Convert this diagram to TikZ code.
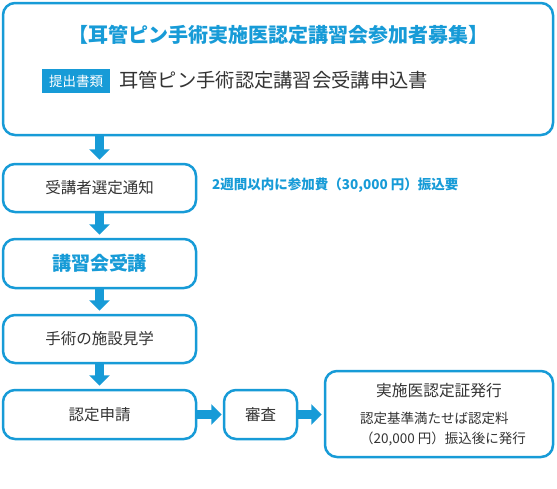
\documentclass[tikz,border=0pt]{standalone}
\usepackage{fontspec}
\setmainfont{Noto Sans CJK JP}
\usetikzlibrary{arrows.meta}

\definecolor{jblue}{HTML}{179BD7}
\definecolor{jtext}{HTML}{333333}

\tikzset{
  stepbox/.style={draw=jblue, line width=2.5pt, rounded corners=12pt, fill=white,
    text=jtext, font=\fontsize{15.5}{18}\selectfont, inner sep=0pt},
  flow/.style={draw=jblue, line width=9pt, -{Triangle[length=10.5pt,width=20pt]}},
}

\begin{document}
\begin{tikzpicture}[x=1pt, y=-1pt]
    \useasboundingbox (0,0) rectangle (557,488);

    % Boxes
    \node[stepbox, minimum width=550pt, minimum height=132pt] (recruit) at (278,69) {};
    \node[stepbox, minimum width=193pt, minimum height=48pt] (notice) at (99.5,188) {受講者選定通知};
    \node[stepbox, minimum width=193pt, minimum height=49pt, text=jblue,
          font=\fontsize{19}{22}\selectfont\bfseries] (course) at (99.5,263.5) {講習会受講};
    \node[stepbox, minimum width=193pt, minimum height=48pt] (visit) at (99.5,339) {手術の施設見学};
    \node[stepbox, minimum width=193pt, minimum height=49pt] (apply) at (99.5,414.5) {認定申請};
    \node[stepbox, minimum width=73pt, minimum height=49pt] (review) at (260.5,414.5) {審査};
    \node[stepbox, minimum width=228pt, minimum height=86pt] (issue) at (439,414) {};

    % Texts in the first box
    \node[text=jblue, font=\fontsize{20}{23}\selectfont\bfseries] (title) at (278,35)
        {【耳管ピン手術実施医認定講習会参加者募集】};
    \node[fill=jblue, text=white, minimum width=68pt, minimum height=24pt, inner sep=0pt,
          font=\fontsize{13.5}{15}\selectfont] (docs) at (76,81) {提出書類};
    \node[anchor=west, inner sep=0pt, text=jtext, font=\fontsize{19.3}{22}\selectfont] (form) at (119,80)
        {耳管ピン手術認定講習会受講申込書};

    % Fee note
    \node[anchor=west, inner sep=0pt, text=jblue, font=\fontsize{13.5}{16}\selectfont\bfseries] (fee) at (212,185)
        {2週間以内に参加費（30,000 円）振込要};

    % Texts in the last box
    \node[text=jtext, font=\fontsize{15.7}{18}\selectfont] (cert) at (439,391) {実施医認定証発行};
    \node[anchor=west, inner sep=0pt, text=jtext, font=\fontsize{13.5}{16}\selectfont] (cond) at (360,418)
        {認定基準満たせば認定料};
    \node[anchor=west, inner sep=0pt, text=jtext, font=\fontsize{13.5}{16}\selectfont] (pay) at (360,439)
        {（20,000 円）振込後に発行};

    % Arrows
    \draw[flow, shorten >=3pt] (recruit.south -| notice.north) -- (notice.north);
    \draw[flow, shorten >=3pt] (notice.south) -- (course.north);
    \draw[flow, shorten >=3pt] (course.south) -- (visit.north);
    \draw[flow, shorten >=3pt] (visit.south) -- (apply.north);
    \draw[flow, shorten >=1pt] (apply.east) -- (review.west);
    \draw[flow, shorten >=2pt] (review.east) -- (review.east -| issue.west);
\end{tikzpicture}
\end{document}
